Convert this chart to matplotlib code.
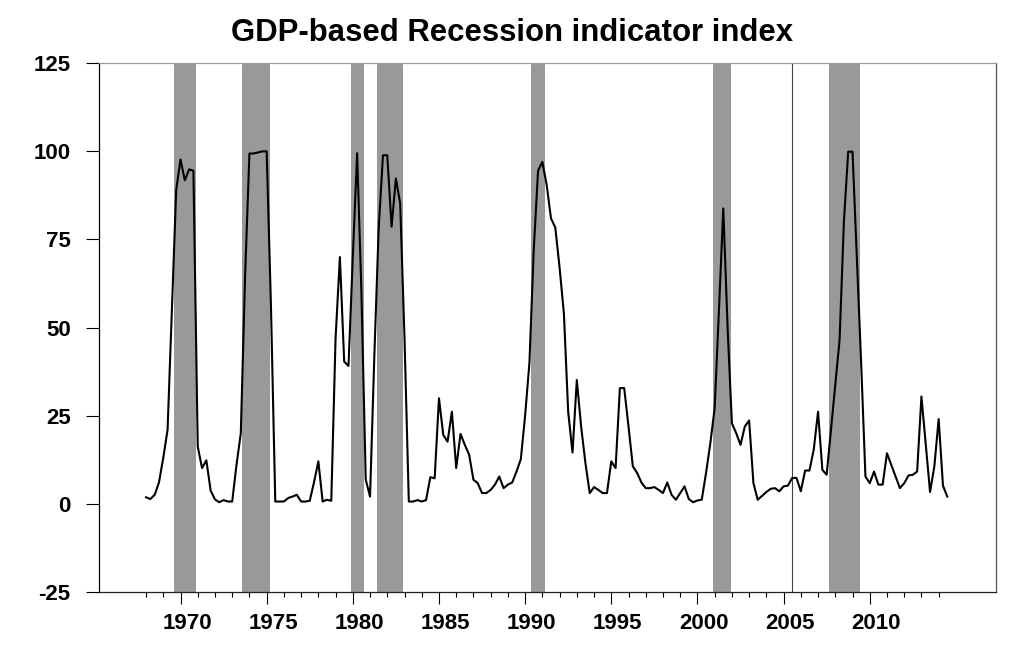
import numpy as np
import matplotlib
matplotlib.use("Agg")
import matplotlib.pyplot as plt
from matplotlib.transforms import ScaledTranslation

plt.rcParams['font.family'] = ['Liberation Sans', 'DejaVu Sans']

# Quarterly GDP-based recession indicator index, starting 1968Q1 (plotted at quarter start)
start_year = 1968.0
index_values = [
    1.8, 1.3, 2.5, 6.0, 13.0, 21.0, 55.0, 89.0, 97.7, 91.8, 94.9, 94.5,
    16.2, 10.1, 12.3, 3.7, 1.2, 0.4, 1.0, 0.6, 0.6, 11.0, 20.0, 65.0,
    99.4, 99.4, 99.7, 100.0, 100.0, 56.0, 0.6, 0.6, 0.6, 1.6, 2.0, 2.5,
    0.6, 0.6, 0.8, 6.1, 12.0, 0.6, 1.1, 0.8, 47.0, 70.0, 40.3, 39.1,
    70.0, 99.5, 60.0, 6.8, 2.0, 42.0, 78.0, 98.9, 98.9, 78.6, 92.3, 85.2,
    47.0, 0.6, 0.6, 1.0, 0.6, 1.0, 7.5, 7.2, 29.9, 19.5, 17.6, 26.1,
    10.1, 19.8, 16.7, 13.9, 6.8, 5.8, 3.0, 3.0, 3.9, 5.4, 7.7, 4.4,
    5.4, 6.0, 9.1, 12.6, 25.0, 40.0, 72.0, 94.5, 97.0, 90.5, 81.0, 78.4,
    67.0, 54.0, 26.0, 14.5, 35.1, 21.9, 11.5, 3.0, 4.7, 3.9, 3.0, 3.0,
    12.0, 10.1, 32.8, 32.8, 21.9, 10.6, 8.7, 6.0, 4.4, 4.4, 4.7, 3.9,
    3.0, 6.0, 2.5, 1.1, 3.0, 4.9, 1.3, 0.4, 0.9, 1.1, 8.7, 17.2,
    27.1, 55.0, 83.8, 50.0, 22.8, 20.0, 16.7, 21.9, 23.6, 5.8, 1.1, 2.2,
    3.3, 4.2, 4.4, 3.5, 4.9, 5.1, 7.3, 7.3, 3.5, 9.4, 9.4, 15.3,
    26.1, 9.6, 8.2, 21.0, 34.0, 46.5, 80.0, 99.9, 99.9, 70.0, 40.0, 7.7,
    5.8, 9.1, 5.4, 5.4, 14.3, 11.0, 7.7, 4.4, 5.8, 8.0, 8.2, 9.1,
    30.4, 17.0, 3.3, 10.6, 24.0, 5.1, 2.0,
]
dates = start_year + 0.25 * np.arange(len(index_values))

# Recession shading (start, end) in fractional years
recession_starts = [1969.62, 1973.59, 1979.90, 1981.39, 1990.36, 2000.89, 2007.66]
recession_ends = [1970.92, 1975.18, 1980.67, 1982.93, 1991.18, 2001.95, 2009.46]
marker_line_year = 2005.51

tick_years = list(range(1968, 2015))
label_years = list(range(1970, 2015, 5))
y_ticks = [-25, 0, 25, 50, 75, 100, 125]
title = "GDP-based Recession indicator index"

fig = plt.figure(figsize=(10.24, 6.47), dpi=100)
ax = fig.add_axes([99 / 1024, 1 - 591.7 / 647, (995.7 - 99) / 1024, (591.7 - 63.3) / 647])

for s, e in zip(recession_starts, recession_ends):
    ax.axvspan(s, e, color='#999999', lw=0, zorder=1)
ax.axvline(marker_line_year, color='#444444', lw=0.8, zorder=2)
ax.plot(dates, index_values, color='black', lw=1.5, zorder=3)

ax.set_xlim(1965.27, 2017.31)
ax.set_ylim(-25, 125)

ax.set_yticks(y_ticks)
ax.set_yticklabels([str(v) for v in y_ticks])
ax.tick_params(axis='y', direction='out', length=9.4, width=0.8, pad=11,
               labelsize=16)

ax.set_xticks(label_years)
ax.set_xticklabels([str(v) for v in label_years])
ax.set_xticks([y for y in tick_years if y not in label_years], minor=True)
ax.tick_params(axis='x', which='major', direction='out', length=8.4, width=0.8,
               pad=7, labelsize=16)
ax.tick_params(axis='x', which='minor', direction='out', length=3.6, width=0.8)

offset = ScaledTranslation(6.5 / 100, 0, fig.dpi_scale_trans)
for lab in ax.get_xticklabels():
    lab.set_transform(lab.get_transform() + offset)
    lab.set_fontweight('bold')
for lab in ax.get_yticklabels():
    lab.set_fontweight('bold')

ax.spines['left'].set_color('black')
ax.spines['bottom'].set_color('#222222')
ax.spines['top'].set_color('#999999')
ax.spines['right'].set_color('#555555')
for sp in ax.spines.values():
    sp.set_linewidth(0.9)

fig.text(0.5, 1 - 33 / 647, title, ha='center', va='center',
         fontsize=22.4, fontweight='bold')

fig.savefig('out.png', dpi=100, facecolor='white')
